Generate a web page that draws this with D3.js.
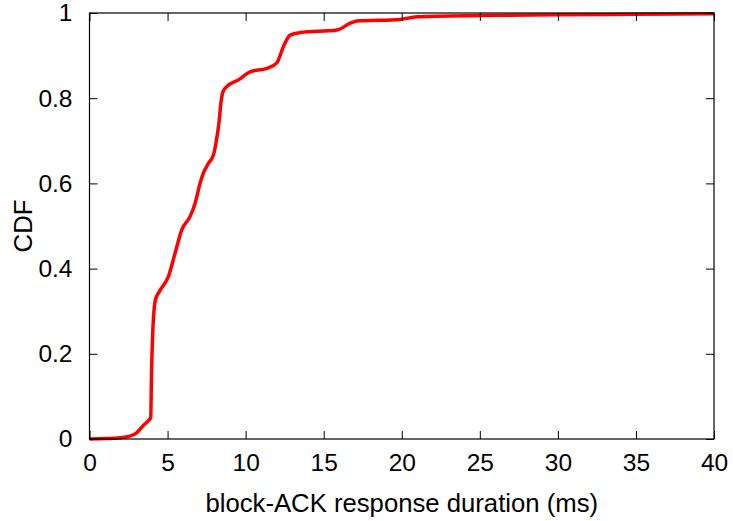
<!DOCTYPE html>
<html>
<head>
<meta charset="utf-8">
<script src="https://cdn.jsdelivr.net/npm/d3@7"></script>
<style>
  html, body { margin: 0; padding: 0; background: #fff; }
  svg { display: block; }
  text { font-family: "Liberation Sans", Arial, Helvetica, sans-serif; fill: #000; }
</style>
</head>
<body>
<svg id="chart" width="733" height="521"></svg>
<script>
// Response duration (ms) and cumulative fraction of block-ACK responses
const durationMs = [0, 1, 2, 2.5, 3.0, 3.4, 3.77, 3.92, 3.97, 4.05, 4.22, 4.47, 5.05, 5.48, 5.91, 6.44, 6.76, 7.08, 7.29, 7.62, 7.94, 8.1, 8.3, 8.42, 8.55, 8.79, 9.54, 10.29, 11.36, 12.0, 12.42, 12.85, 13.49, 15.85, 16.7, 17.13, 19.9, 20.97, 25.0, 30, 35, 40];
const cdfValues  = [0, 0.001, 0.003, 0.006, 0.014, 0.03, 0.043, 0.05, 0.15, 0.249, 0.326, 0.346, 0.381, 0.436, 0.491, 0.522, 0.553, 0.600, 0.624, 0.647, 0.667, 0.695, 0.745, 0.790, 0.815, 0.827, 0.843, 0.862, 0.870, 0.883, 0.921, 0.948, 0.954, 0.960, 0.976, 0.981, 0.985, 0.991, 0.994, 0.996, 0.997, 0.998];
const xTicks = [0, 5, 10, 15, 20, 25, 30, 35, 40];
const yTicks = [0, 0.2, 0.4, 0.6, 0.8, 1];
const yTickLabels = ["0", "0.2", "0.4", "0.6", "0.8", "1"];

const svg = d3.select("#chart");
const plotLeft = 89.5, plotRight = 714, plotTop = 13, plotBottom = 439;

const x = d3.scaleLinear().domain([0, 40]).range([plotLeft, plotRight]);
const y = d3.scaleLinear().domain([0, 1]).range([plotBottom, plotTop]);

const tickLen = 8;
const tickFont = 24.5;
const titleFont = 25.7;

// Curve
const points = durationMs.map((d, i) => [d, cdfValues[i]]);
const line = d3.line()
  .x(d => x(d[0]))
  .y(d => y(d[1]))
  .curve(d3.curveMonotoneX);

svg.append("path")
  .datum(points)
  .attr("d", line)
  .attr("fill", "none")
  .attr("stroke", "#ff0000")
  .attr("stroke-width", 3.5)
  .attr("stroke-linejoin", "round");

// Bottom axis with labels, inward ticks
const xAxis = d3.axisBottom(x).tickValues(xTicks).tickSizeInner(-tickLen).tickSizeOuter(0).tickPadding(tickLen + 18);
const gx = svg.append("g").attr("transform", `translate(0,${plotBottom})`).call(xAxis);
gx.select(".domain").remove();
gx.selectAll("text").attr("font-size", tickFont).attr("font-family", "Liberation Sans, Arial, sans-serif").attr("dy", "0.25em").attr("fill", "#000");

// Top axis: ticks only
const gxt = svg.append("g").attr("transform", `translate(0,${plotTop})`)
  .call(d3.axisTop(x).tickValues(xTicks).tickSizeInner(-tickLen).tickSizeOuter(0).tickFormat(""));
gxt.select(".domain").remove();

// Left axis with labels
const yAxis = d3.axisLeft(y).tickValues(yTicks).tickSizeInner(-tickLen).tickSizeOuter(0)
  .tickFormat((d, i) => yTickLabels[i]).tickPadding(tickLen + 9);
const gy = svg.append("g").attr("transform", `translate(${plotLeft},0)`).call(yAxis);
gy.select(".domain").remove();
gy.selectAll("text").attr("font-size", tickFont).attr("font-family", "Liberation Sans, Arial, sans-serif").attr("fill", "#000");

// Right axis: ticks only
const gyr = svg.append("g").attr("transform", `translate(${plotRight},0)`)
  .call(d3.axisRight(y).tickValues(yTicks).tickSizeInner(-tickLen).tickSizeOuter(0).tickFormat(""));
gyr.select(".domain").remove();

svg.selectAll(".tick line").attr("stroke", "#000").attr("stroke-width", 1);

// Plot frame
svg.append("rect")
  .attr("x", plotLeft).attr("y", plotTop)
  .attr("width", plotRight - plotLeft).attr("height", plotBottom - plotTop)
  .attr("fill", "none").attr("stroke", "#000").attr("stroke-width", 1.2);

// Axis titles
svg.append("text")
  .attr("x", (plotLeft + plotRight) / 2).attr("y", 512)
  .attr("text-anchor", "middle")
  .attr("font-size", titleFont)
  .text("block-ACK response duration (ms)");

svg.append("text")
  .attr("transform", `translate(32,${(plotTop + plotBottom) / 2}) rotate(-90)`)
  .attr("text-anchor", "middle")
  .attr("font-size", titleFont)
  .text("CDF");
</script>
</body>
</html>
